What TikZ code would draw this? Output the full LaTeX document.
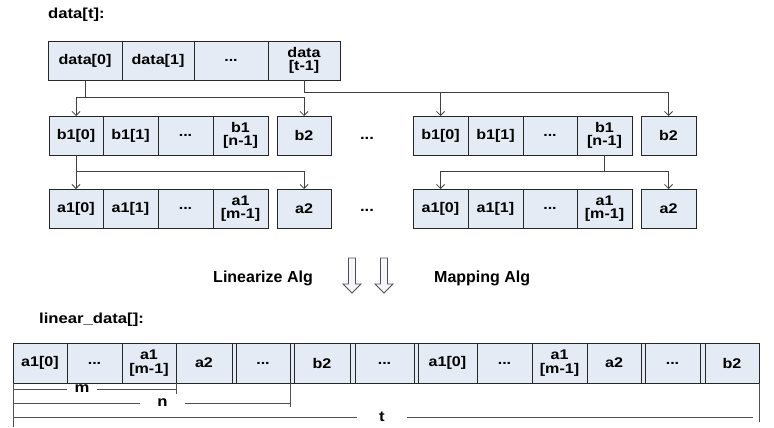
\documentclass[tikz,border=0pt]{standalone}
\usepackage{fontspec}
\setmainfont{Liberation Sans}
\newfontfamily\cellfont[FakeStretch=1.15]{Liberation Sans}
\newfontfamily\algfont{Liberation Sans}
\usetikzlibrary{arrows.meta}
\definecolor{cellfill}{RGB}{229,235,245}
\definecolor{edgecol}{RGB}{38,38,38}
\definecolor{wirecol}{RGB}{64,64,64}
\definecolor{dimcol}{RGB}{80,80,80}

\begin{document}
\begin{tikzpicture}[x=1pt,y=-1pt,
  cell/.style={draw=edgecol, line width=0.9pt, fill=cellfill, inner sep=0pt,
    outer sep=0pt, minimum height=39pt, align=center,
    font=\cellfont\fontsize{14}{13.5}\selectfont\bfseries},
  lincell/.style={cell, minimum height=40pt},
  link/.style={draw=wirecol, line width=0.8pt},
  tipped/.style={-{Straight Barb[length=4pt,width=8pt]}},
  title/.style={font=\cellfont\fontsize{14.5}{16}\selectfont\bfseries, inner sep=0pt, anchor=west},
  gapdots/.style={font=\cellfont\fontsize{14.5}{16}\selectfont\bfseries, inner sep=0pt},
  algtext/.style={font=\algfont\fontsize{16}{18}\selectfont\bfseries, inner sep=0pt},
  dimline/.style={draw=dimcol, line width=0.8pt},
  dimlabel/.style={font=\cellfont\fontsize{14.5}{16}\selectfont\bfseries, fill=white, inner ysep=1pt},
  hollow/.style={draw=dimcol, line width=0.8pt, fill=cellfill!40, line join=miter}
]
\useasboundingbox (0,0) rectangle (774,428);

% ---------- source array ----------
\node[title] (tdata) at (48,15) {data[t]:};
\node[cell, minimum width=74pt] (d0) at (85,60.5)  {data[0]};
\node[cell, minimum width=72pt] (d1) at (158,60.5) {data[1]};
\node[cell, minimum width=74pt] (d2) at (231,60.5) {...};
\node[cell, minimum width=72pt] (d3) at (304,60.5) {data\\{[t-1]}};

% ---------- first block: b row and a row ----------
\foreach \nm/\lo/\hi/\tx in {b10/49/103/{b1[0]}, b11/103/158/{b1[1]},
    b12/158/213/{...}, b13/213/268/{b1\\{[n-1]}}, b2L/277/331/{b2}}
  \node[cell, minimum width={\hi-\lo}] (\nm) at ({(\lo+\hi)/2},135.5) {\tx};
\foreach \nm/\lo/\hi/\tx in {a10/49/103/{a1[0]}, a11/103/158/{a1[1]},
    a12/158/213/{...}, a13/213/268/{a1\\{[m-1]}}, a2L/277/331/{a2}}
  \node[cell, minimum width={\hi-\lo}] (\nm) at ({(\lo+\hi)/2},208.5) {\tx};

\node[gapdots] (gb) at (367,138) {...};
\node[gapdots] (ga) at (367,210) {...};

% ---------- second block: b row and a row ----------
\foreach \nm/\lo/\hi/\tx in {c10/413/468/{b1[0]}, c11/468/523/{b1[1]},
    c12/523/577/{...}, c13/577/632/{b1\\{[n-1]}}, c2R/641/696/{b2}}
  \node[cell, minimum width={\hi-\lo}] (\nm) at ({(\lo+\hi)/2},135.5) {\tx};
\foreach \nm/\lo/\hi/\tx in {e10/413/468/{a1[0]}, e11/468/523/{a1[1]},
    e12/523/577/{...}, e13/577/632/{a1\\{[m-1]}}, e2R/641/696/{a2}}
  \node[cell, minimum width={\hi-\lo}] (\nm) at ({(\lo+\hi)/2},208.5) {\tx};

% ---------- tree connectors ----------
\coordinate (j1) at (0,97);
\coordinate (j2) at (0,92);
\coordinate (j3) at (0,171);
\draw[link] (d0.south) -- (d0.south |- j1);
\draw[link, tipped] (b10.north |- j1) -- (b10.north);
\draw[link, tipped] (b10.north |- j1) -- (b2L.north |- j1) -- (b2L.north);

\draw[link, tipped] (d3.south) -- (d3.south |- j2) -- (c2R.north |- j2) -- (c2R.north);
\draw[link, tipped] (c10.north |- j2) -- (c10.north);

\draw[link, tipped] (b10.south) -- (a10.north);
\draw[link, tipped] (b10.south |- j3) -- (a2L.north |- j3) -- (a2L.north);

\draw[link] (c13.south) -- (c13.south |- j3);
\draw[link, tipped] (e10.north |- j3) -- (e10.north);
\draw[link, tipped] (e10.north |- j3) -- (e2R.north |- j3) -- (e2R.north);

% ---------- algorithm step ----------
\node[algtext, anchor=east] (linalg) at (313,278) {Linearize Alg};
\node[algtext, anchor=west] (mapalg) at (434,278) {Mapping Alg};
\foreach \dx in {0,32}
  \draw[hollow] ({348.5+\dx},258) -- ({355.5+\dx},258) -- ({355.5+\dx},284)
    -- ({361+\dx},284) -- ({352+\dx},293) -- ({343+\dx},284)
    -- ({348.5+\dx},284) -- cycle;

% ---------- linear array ----------
\node[title] (tlin) at (39,320) {linear\_data[]:};
\foreach \nm/\lo/\hi/\tx in {la/13/67/{a1[0]}, lb/67/122/{...},
    lc/122/176/{a1\\{[m-1]}}, ld/176/232/{a2}, g1/232/236/{},
    le/236/290/{...}, g2/290/294/{}, lf/294/350/{b2}, g3/350/355/{},
    lg/355/414/{...}, g4/414/418/{}, lh/418/477/{a1[0]}, li/477/532/{...},
    lj/532/587/{a1\\{[m-1]}}, lk/587/641/{a2}, g5/641/645/{},
    ll/645/700/{...}, g6/700/705/{}, lm/705/759/{b2}}
  \node[lincell, minimum width={\hi-\lo}] (\nm) at ({(\lo+\hi)/2},363) {\tx};

% ---------- extents m, n, t ----------
\coordinate (ym) at (0,389);
\coordinate (yn) at (0,403);
\coordinate (yt) at (0,417);
\draw[dimline] (la.south west) -- ++(0,44);
\draw[dimline] (lc.south east) -- ++(0,11);
\draw[dimline] (la.south west |- ym) -- (lc.south east |- ym);
\node[dimlabel, inner xsep=8pt] (labm) at (82,389) {m};
\draw[dimline] (le.south east) -- ++(0,24);
\draw[dimline] (la.south west |- yn) -- (le.south east |- yn);
\node[dimlabel, inner xsep=17pt] (labn) at (162.5,403) {n};
\draw[dimline] (lm.south east) -- ++(0,39);
\coordinate (tend) at (753,417);
\draw[dimline] (la.south west |- yt) -- (tend);
\node[dimlabel, inner xsep=22pt] (labt) at (382,417) {t};
\end{tikzpicture}
\end{document}
